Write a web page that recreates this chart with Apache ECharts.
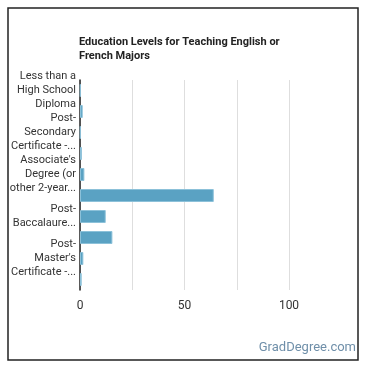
<!DOCTYPE html>
<html><head><meta charset="utf-8">
<script src="https://cdn.jsdelivr.net/npm/echarts@6/dist/echarts.min.js"></script>
<style>html,body{margin:0;padding:0;background:#fff}#c{width:370px;height:370px}</style>
</head><body><div id="c"></div>
<script>
const categories = [
  "Less than a High School Diploma",
  "High School Diploma",
  "Post-Secondary Certificate - awarded for training completed after high school",
  "Some College Courses",
  "Associate's Degree (or other 2-year degree)",
  "Bachelor's Degree",
  "Post-Baccalaureate Certificate",
  "Master's Degree",
  "Post-Master's Certificate - awarded for completion of an organized program of study",
  "Doctoral Degree"
];
const values = [0.3, 1.3, 0.3, 0.9, 2.1, 64, 12.3, 15.5, 1.6, 0.8];
const tickLabels = {
  "Less than a High School Diploma": "Less than a\nHigh School\nDiploma",
  "Post-Secondary Certificate - awarded for training completed after high school": "Post-\nSecondary\nCertificate -...",
  "Associate's Degree (or other 2-year degree)": "Associate's\nDegree (or\nother 2-year...",
  "Post-Baccalaureate Certificate": "Post-\nBaccalaure...",
  "Post-Master's Certificate - awarded for completion of an organized program of study": "Post-\nMaster's\nCertificate -..."
};
const xTicks = [0, 50, 100];
const title = "Education Levels for Teaching English or\nFrench Majors";

const chart = echarts.init(document.getElementById('c'), null, {renderer: 'canvas'});
chart.setOption({
  animation: false,
  backgroundColor: '#fff',
  textStyle: {fontFamily: 'Roboto'},
  title: {
    text: title, left: 74, top: 30,
    textStyle: {fontSize: 11, fontWeight: 'bold', color: '#222', lineHeight: 14, fontFamily: 'Roboto'}
  },
  grid: {left: 80, right: 81, top: 80, bottom: 80, containLabel: false},
  xAxis: {
    type: 'value', min: 0, max: 100, interval: 25,
    axisLine: {show: false}, axisTick: {show: false},
    splitLine: {show: true, lineStyle: {color: '#dedede', width: 1}},
    axisLabel: {
      color: '#333', fontSize: 12, margin: 10,
      formatter: v => xTicks.includes(v) ? String(v) : ''
    }
  },
  yAxis: {
    type: 'category', data: categories, inverse: true,
    axisLine: {show: true, lineStyle: {color: '#222', width: 1.5}},
    axisTick: {show: false},
    axisLabel: {
      interval: 1, color: '#333', fontSize: 11, lineHeight: 14, margin: 4,
      formatter: v => tickLabels[v] || v
    }
  },
  series: [{
    type: 'bar', data: values, barWidth: 13,
    itemStyle: {color: '#5aa2c3', borderColor: '#8cc1d9', borderWidth: 1}
  }],
  graphic: [
    {type: 'rect', shape: {x: 8, y: 8, width: 350, height: 352},
     style: {fill: 'none', stroke: '#222', lineWidth: 1.5}},
    {type: 'text', right: 14, top: 341,
     style: {text: 'GradDegree.com', fill: '#6f8fa9', font: '13px Roboto'}}
  ]
});
</script></body></html>
